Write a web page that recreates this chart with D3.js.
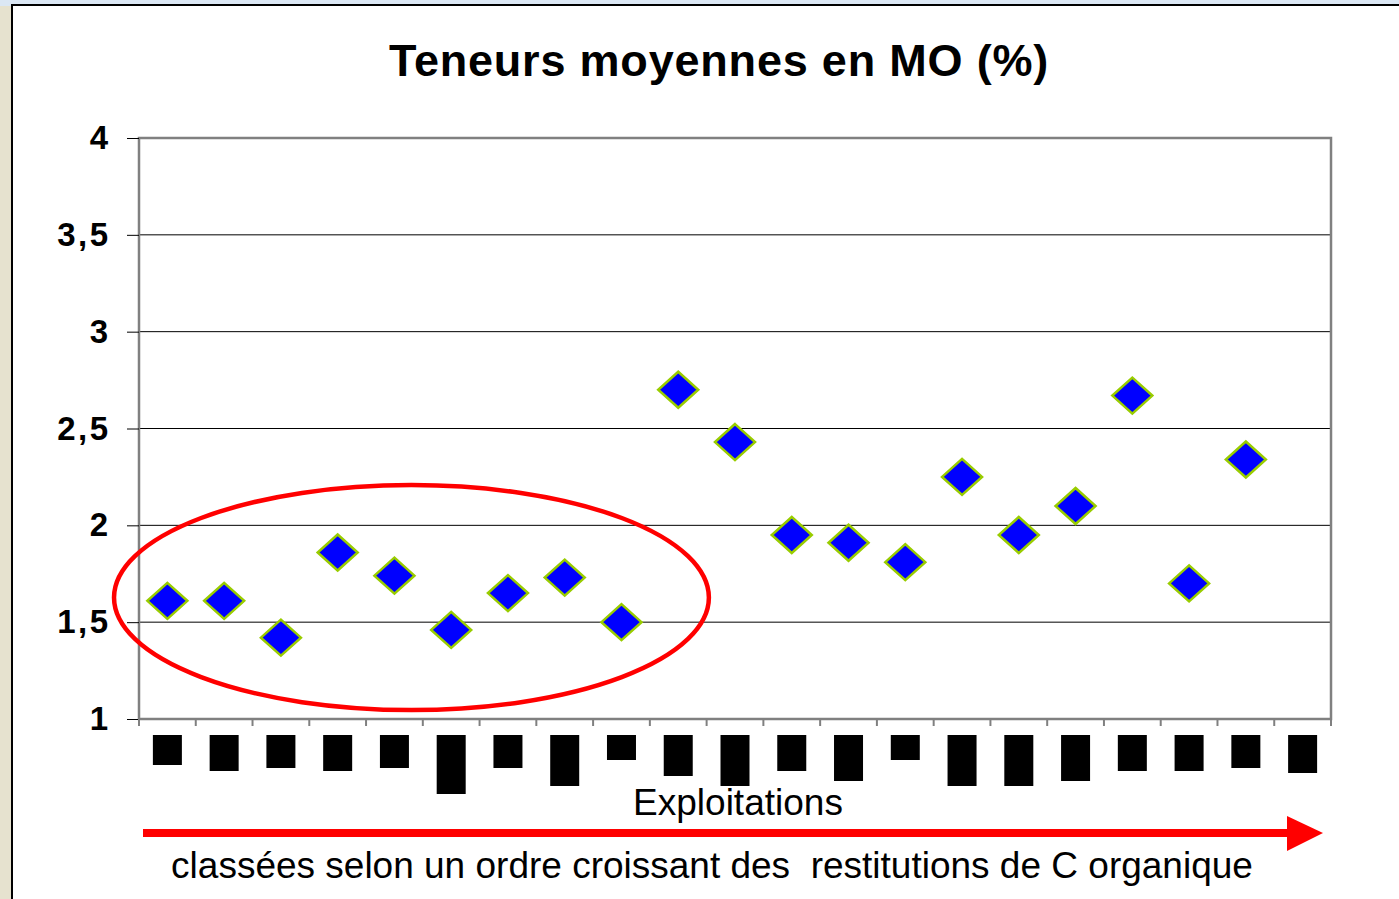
<!DOCTYPE html>
<html>
<head>
<meta charset="utf-8">
<script src="https://cdn.jsdelivr.net/npm/d3@7"></script>
<style>
  body { margin:0; background:#fff; }
  svg { display:block; }
</style>
</head>
<body>
<svg width="1399" height="899"></svg>
<script>
// exploitations, ranked by organic C returns (labels are masked in the source)
const farms = d3.range(1, 22).map(i => "E" + i)
const moValues = [1.61, 1.61, 1.42, 1.86, 1.74, 1.46, 1.65, 1.73, 1.50, 2.70,
                  2.43, 1.95, 1.91, 1.81, 2.25, 1.95, 2.10, 2.67, 1.70, 2.34, null]
const yTicks = [1, 1.5, 2, 2.5, 3, 3.5, 4]
// heights of the black boxes hiding each farm label
const maskHeights = [30, 36, 33, 36, 33, 59, 33, 51, 25, 41, 51, 36, 46, 25, 51, 51, 46, 36, 36, 33, 38]

const svg = d3.select("svg")

// slide background around the panel
svg.append("rect").attr("width", 1399).attr("height", 899).attr("fill", "#e6e2cf")
svg.append("rect").attr("width", 1399).attr("height", 6).attr("fill", "#dbe7f4")
svg.append("rect").attr("x", 12).attr("y", 5).attr("width", 1400).attr("height", 900)
   .attr("fill", "#fff").attr("stroke", "#000").attr("stroke-width", 2)

const plotL = 139, plotR = 1331, plotT = 138, plotB = 719

const x = d3.scaleBand().domain(farms).range([plotL, plotR])
const y = d3.scaleLinear().domain([1, 4]).range([plotB, plotT])
const idx = d3.scaleLinear().domain([0, farms.length]).range([plotL, plotR])

svg.append("text")
   .attr("x", 719).attr("y", 76)
   .attr("text-anchor", "middle")
   .style("font", "bold 45px 'Liberation Sans', Arial, sans-serif")
   .style("letter-spacing", "0.8px")
   .text("Teneurs moyennes en MO (%)")

// gridlines
svg.append("g")
   .selectAll("line")
   .data(yTicks.filter(t => t > 1 && t < 4))
   .join("line")
   .attr("x1", plotL).attr("x2", plotR)
   .attr("y1", d => y(d)).attr("y2", d => y(d))
   .attr("stroke", "#000").attr("stroke-width", 1)

// plot frame
svg.append("rect")
   .attr("x", plotL).attr("y", plotT)
   .attr("width", plotR - plotL).attr("height", plotB - plotT)
   .attr("fill", "none").attr("stroke", "#808080").attr("stroke-width", 2.5)

// y axis
const yAxis = svg.append("g")
   .attr("transform", `translate(${plotL},0)`)
   .call(d3.axisLeft(y).tickValues(yTicks).tickSize(12).tickPadding(16.5)
          .tickFormat(d => String(d).replace(".", ",")))
yAxis.select(".domain").remove()
yAxis.selectAll("line").attr("stroke", "#000")
yAxis.selectAll("text")
   .style("font", "bold 33px 'Liberation Sans', Arial, sans-serif")
   .style("letter-spacing", "2.5px")
   .attr("fill", "#000")

// x axis ticks at category boundaries
svg.append("g")
   .selectAll("line")
   .data(d3.range(farms.length + 1))
   .join("line")
   .attr("x1", d => idx(d)).attr("x2", d => idx(d))
   .attr("y1", plotB).attr("y2", plotB + 7)
   .attr("stroke", "#808080").attr("stroke-width", 2)

// masked labels
svg.append("g")
   .selectAll("rect")
   .data(farms)
   .join("rect")
   .attr("x", d => x(d) + x.bandwidth() / 2 - 14.5)
   .attr("y", 735)
   .attr("width", 29)
   .attr("height", (d, i) => maskHeights[i])
   .attr("fill", "#000")

// diamonds
const pts = farms.map((f, i) => ({f, v: moValues[i]})).filter(d => d.v != null)
svg.append("g")
   .selectAll("path")
   .data(pts)
   .join("path")
   .attr("transform", d => `translate(${x(d.f) + x.bandwidth() / 2},${y(d.v)})`)
   .attr("d", "M0,-18L20,0L0,18L-20,0Z")
   .attr("fill", "#0000ff")
   .attr("stroke", "#99cc00")
   .attr("stroke-width", 2.5)

// red ellipse around the first nine farms
svg.append("ellipse")
   .attr("cx", (idx(-0.44) + idx(10.04)) / 2)
   .attr("cy", (y(2.208) + y(1.046)) / 2)
   .attr("rx", (idx(10.04) - idx(-0.44)) / 2)
   .attr("ry", (y(1.046) - y(2.208)) / 2)
   .attr("fill", "none").attr("stroke", "#ff0000").attr("stroke-width", 4.5)

svg.append("text")
   .attr("x", 738).attr("y", 815)
   .attr("text-anchor", "middle")
   .style("font", "37px 'Liberation Sans', Arial, sans-serif")
   .text("Exploitations")

// red arrow
svg.append("rect").attr("x", 143).attr("y", 829).attr("width", 1146).attr("height", 8).attr("fill", "#ff0000")
svg.append("path").attr("d", "M1287,816L1323,833L1287,851Z").attr("fill", "#ff0000")

svg.append("text")
   .attr("x", 712).attr("y", 878)
   .attr("text-anchor", "middle")
   .attr("xml:space", "preserve")
   .style("white-space", "pre")
   .style("font", "37px 'Liberation Sans', Arial, sans-serif")
   .text("classées selon un ordre croissant des  restitutions de C organique")
</script>
</body>
</html>
